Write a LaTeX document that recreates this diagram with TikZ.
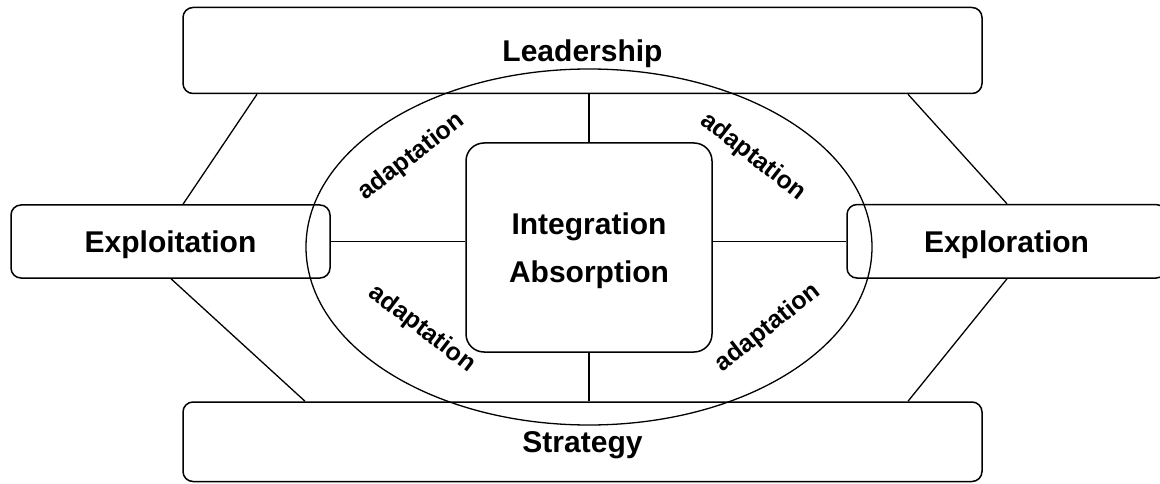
\documentclass[tikz,border=0pt]{standalone}
\usepackage{fontspec}
\setmainfont{Liberation Sans}
\begin{document}
\begin{tikzpicture}[x=1pt,y=-1pt,
  box/.style={draw=black, line width=1.5pt, rounded corners=10pt, inner sep=0pt,
    text depth=0pt, font=\fontsize{30}{36}\selectfont\bfseries},
  corebox/.style={draw=black, line width=1.5pt, rounded corners=18pt, inner sep=0pt,
    text depth=0pt, align=center, font=\fontsize{30}{48}\selectfont\bfseries,
    minimum width=246pt, minimum height=209pt},
  link/.style={draw=black, line width=1.3pt},
  ring/.style={draw=black, line width=1.3pt},
  adapt/.style={font=\fontsize{25}{30}\selectfont\bfseries, inner sep=0pt}
]
\useasboundingbox (0,0) rectangle (1160,484);
\clip (0,0) rectangle (1160,484);

% boxes
\node[box, minimum width=799pt, minimum height=86pt] (lead) at (582.5,50.5) {Leadership};
\node[box, minimum width=799pt, minimum height=79.5pt] (strat) at (582.5,441.75) {Strategy};
\node[box, minimum width=319pt, minimum height=73pt] (exploit) at (170.5,241.5) {Exploitation};
\node[box, minimum width=319pt, minimum height=73.5pt] (explor) at (1006.5,241.3) {Exploration};
\node[corebox] (core) at (589,247.5) {Integration\\Absorption};

% outer connectors
\draw[link] (lead.south -| 257,0) -- (exploit.north -| 183,0);
\draw[link] (lead.south -| 908,0) -- (explor.north -| 1007,0);
\draw[link] (exploit.south -| 171,0) -- (strat.north -| 305,0);
\draw[link] (explor.south -| 1007,0) -- (strat.north -| 908,0);

% inner connectors
\draw[link] (lead.south -| core.north) -- (core.north);
\draw[link] (core.south) -- (strat.north -| core.south);
\draw[link] (exploit.east) -- (core.west |- exploit.east);
\draw[link] (core.east |- explor.west) -- (explor.west);

% ellipse
\draw[ring] (589,247) ellipse [x radius=283pt, y radius=178pt];

% adaptation labels
\node[adapt, rotate=37.5] (atl) at (412,157) {adaptation};
\node[adapt, rotate=-38] (atr) at (753,157) {adaptation};
\node[adapt, rotate=-37.5] (abl) at (422,329) {adaptation};
\node[adapt, rotate=38] (abr) at (768,328) {adaptation};
\end{tikzpicture}
\end{document}
